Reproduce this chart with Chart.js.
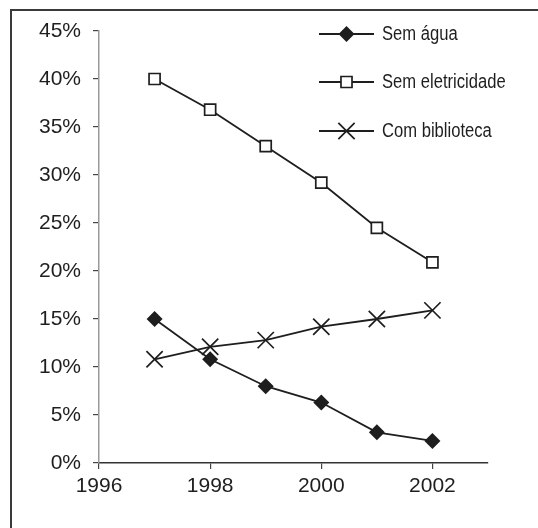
<!DOCTYPE html>
<html>
<head>
<meta charset="utf-8">
<script src="https://cdn.jsdelivr.net/npm/chart.js@4/dist/chart.umd.min.js"></script>
<style>
html,body{margin:0;padding:0;background:#fff;overflow:hidden;}
#wrap{position:relative;width:538px;height:528px;overflow:hidden;}
#frame{position:absolute;left:10px;top:9px;width:700px;height:700px;border-left:2px solid #3a3a3a;border-top:2px solid #3a3a3a;}
#c{position:absolute;left:0;top:0;}
</style>
</head>
<body>
<div id="wrap"><div id="frame"></div><canvas id="c" width="538" height="528"></canvas></div>
<script>
const years = [1997, 1998, 1999, 2000, 2001, 2002];
const semAgua = [15.0, 10.8, 8.0, 6.3, 3.2, 2.3];
const semEletricidade = [40.0, 36.8, 33.0, 29.2, 24.5, 20.9];
const comBiblioteca = [10.8, 12.1, 12.8, 14.2, 15.0, 15.9];
const seriesNames = ['Sem água', 'Sem eletricidade', 'Com biblioteca'];
const xTickValues = [1996, 1998, 2000, 2002];
const xMin = 1996, xMax = 2003;
const yMin = 0, yMax = 45, yStep = 5;

const FONT = "'Liberation Sans', Arial, sans-serif";
const INK = '#1e1e1e';

function pts(vals){ return years.map((y,i)=>({x:y, y:vals[i]})); }

const styles = [
  {pointStyle:'rectRot', radius:6.8, bg:INK},
  {pointStyle:'rect', radius:7.8, bg:'#ffffff'},
  {pointStyle:'crossRot', radius:11.5, bg:INK}
];
const seriesVals = [semAgua, semEletricidade, comBiblioteca];

const datasets = seriesNames.map((name,i)=>({
  label: name,
  data: pts(seriesVals[i]),
  showLine: true,
  borderColor: INK,
  borderWidth: 1.8,
  pointStyle: styles[i].pointStyle,
  pointRadius: styles[i].radius,
  pointHoverRadius: styles[i].radius,
  pointBackgroundColor: styles[i].bg,
  pointBorderColor: INK,
  pointBorderWidth: 1.7,
  tension: 0
}));

const legendPlugin = {
  id: 'lineLegend',
  afterDraw(chart){
    const ctx = chart.ctx;
    const ca = chart.chartArea;
    const x0 = ca.left + 220, x1 = ca.left + 275, tx = ca.left + 283;
    const ys = [ca.top + 3, ca.top + 51, ca.top + 100];
    ctx.save();
    chart.data.datasets.forEach((ds,i)=>{
      const y = ys[i];
      ctx.strokeStyle = INK; ctx.lineWidth = 1.8;
      ctx.beginPath(); ctx.moveTo(x0,y); ctx.lineTo(x1,y); ctx.stroke();
      ctx.fillStyle = ds.pointBackgroundColor;
      ctx.strokeStyle = INK;
      ctx.lineWidth = ds.pointBorderWidth;
      Chart.helpers.drawPoint(ctx, {pointStyle: ds.pointStyle, radius: ds.pointRadius, borderWidth: ds.pointBorderWidth, rotation:0}, (x0+x1)/2, y);
      ctx.save();
      ctx.translate(tx, y);
      ctx.scale(0.83, 1);
      ctx.fillStyle = INK;
      ctx.font = "20px " + FONT;
      ctx.textBaseline = 'middle';
      ctx.textAlign = 'left';
      ctx.fillText(ds.label, 0, 0);
      ctx.restore();
    });
    ctx.restore();
  }
};

new Chart(document.getElementById('c'), {
  type: 'scatter',
  data: { datasets },
  plugins: [legendPlugin],
  options: {
    responsive: false,
    animation: false,
    events: [],
    layout: { padding: { left: 0, top: 31, right: 50, bottom: 5 } },
    plugins: { legend: { display: false }, tooltip: { enabled: false } },
    scales: {
      x: {
        type: 'linear',
        min: xMin, max: xMax,
        afterBuildTicks(scale){ scale.ticks = xTickValues.map(v=>({value:v})); },
        afterFit(scale){ scale.height = 60; },
        grid: { display: true, drawOnChartArea: false, drawTicks: true, tickLength: 6, color: '#444', lineWidth: 1.2 },
        border: { display: true, color: '#333', width: 1.5 },
        ticks: { color: INK, font: { family: FONT, size: 21 }, padding: 5, maxRotation: 0, autoSkip: false, callback: v => String(v) }
      },
      y: {
        min: yMin, max: yMax,
        afterFit(scale){ scale.width = 99; },
        grid: { display: true, drawOnChartArea: false, drawTicks: true, tickLength: 6, color: '#444', lineWidth: 1.2 },
        border: { display: true, color: '#999', width: 1.5 },
        ticks: { stepSize: yStep, color: INK, font: { family: FONT, size: 21 }, padding: 12, callback: v => v + '%' }
      }
    }
  }
});
</script>
</body>
</html>
